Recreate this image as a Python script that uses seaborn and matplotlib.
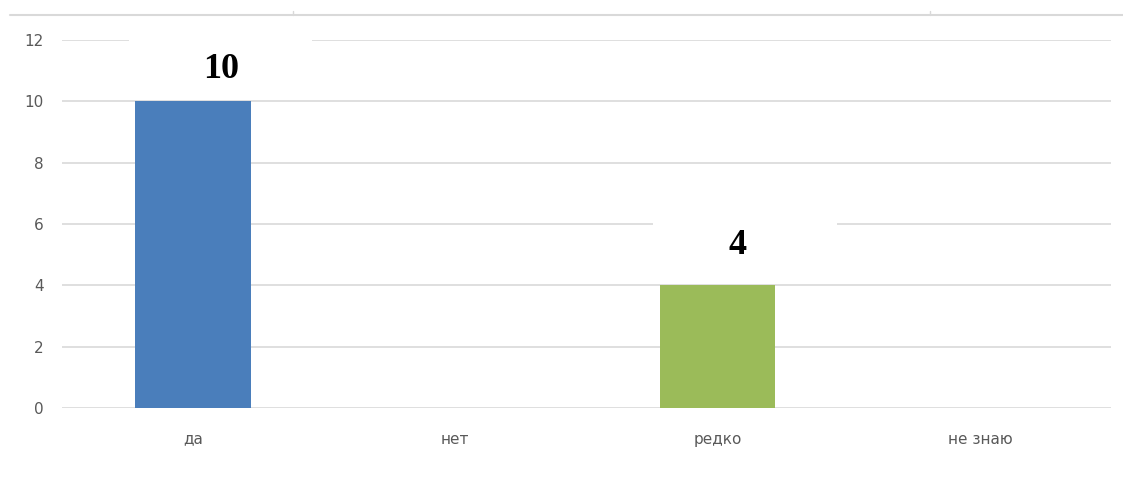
import matplotlib
matplotlib.use("Agg")
import matplotlib.pyplot as plt
from matplotlib.patches import Rectangle
from matplotlib.lines import Line2D
import seaborn as sns
import pandas as pd

categories = ["да", "нет", "редко", "не знаю"]
values = [10, 0, 4, 0]
bar_colors = ["#4a7ebb", "#c0504d", "#9bbb59", "#8064a2"]
yticks = [0, 2, 4, 6, 8, 10, 12]

# label styling (offset from bar centre / top, in data units)
label_dx = [0.105, 0, 0.075, 0]
label_dy = [1.04, 0, 1.3, 0]

df = pd.DataFrame({"cat": categories, "val": values})

sns.set_style("white")
plt.rcParams["font.family"] = ["DejaVu Sans"]

fig = plt.figure(figsize=(11.23, 4.86), dpi=100)
ax = fig.add_axes([62/1123, 1-408/486, (1111-62)/1123, (408-40)/486])

sns.barplot(data=df, x="cat", y="val", hue="cat", palette=bar_colors,
            width=0.44, legend=False, ax=ax, zorder=3, saturation=1,
            linewidth=0, edgecolor="none")

ax.set_ylim(0, 12)
ax.set_xlim(-0.5, len(categories) - 0.5)
ax.set_yticks(yticks)
ax.grid(axis="y", color="#d9d9d9", lw=1.2, zorder=0)
ax.grid(axis="x", visible=False)
ax.set_axisbelow(True)
for s in ax.spines.values():
    s.set_visible(False)
ax.set_xlabel("")
ax.set_ylabel("")
ax.tick_params(axis="y", length=0, pad=13, labelsize=11, labelcolor="#595959")
ax.tick_params(axis="x", length=0, pad=17, labelsize=11, labelcolor="#595959")

for i, v in enumerate(values):
    if v > 0:
        ax.add_patch(Rectangle((i - 0.245, v + 0.15), 0.7, 2.2,
                               facecolor="white", edgecolor="none", zorder=4))
        ax.text(i + label_dx[i], v + label_dy[i], str(v), ha="center", va="center",
                fontsize=26, fontweight="bold", family="Liberation Serif",
                color="black", zorder=5)

# top border line (cropped frame)
fig.add_artist(Line2D([10/1123, 1.0], [1-15/486, 1-15/486], color="#d9d9d9", lw=1.5))
for xp in [293, 930]:
    fig.add_artist(Line2D([xp/1123, xp/1123], [1-15/486, 1-11/486], color="#d9d9d9", lw=1))

fig.savefig("out.png", dpi=100)
